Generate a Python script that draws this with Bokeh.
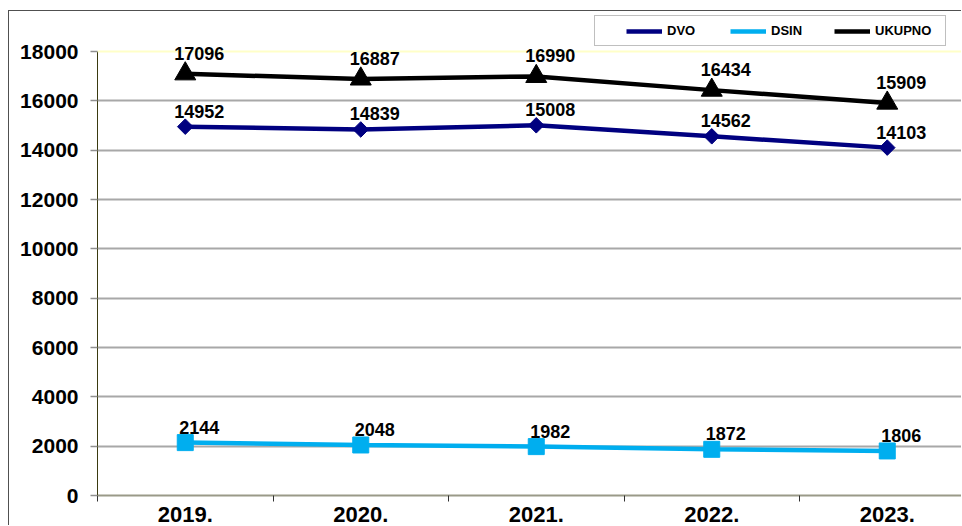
from math import pi
from bokeh.plotting import figure
from bokeh.models import (ColumnDataSource, Range1d, FixedTicker, LabelSet, Legend,
                          LegendItem, Span)
from bokeh.core.properties import value
from bokeh.embed import file_html
from bokeh.resources import INLINE

years = ["2019.", "2020.", "2021.", "2022.", "2023."]
dvo = [14952, 14839, 15008, 14562, 14103]
dsin = [2144, 2048, 1982, 1872, 1806]
ukupno = [17096, 16887, 16990, 16434, 15909]
y_ticks = [0, 2000, 4000, 6000, 8000, 10000, 12000, 14000, 16000, 18000]

FONT = "Liberation Sans"
xs = [i + 0.5 for i in range(len(years))]
boundaries = [float(i) for i in range(len(years) + 1)]

p = figure(width=953, height=515, output_backend="svg", toolbar_location=None,
           x_range=Range1d(0, 865 / 175.5), y_range=Range1d(0, 18000 * 484 / 444),
           min_border_left=88, min_border_right=0, min_border_top=0, min_border_bottom=31,
           background_fill_color="white", border_fill_color="white")
p.margin = (10, 0, 0, 8)
p.styles = {"border-left": "1px solid #505050", "border-top": "1px solid #505050"}
p.outline_line_color = None

# y axis
p.yaxis.ticker = FixedTicker(ticks=y_ticks)
p.yaxis.bounds = (0, 18000)
p.yaxis.major_label_text_font = FONT
p.yaxis.major_label_text_font_style = "bold"
p.yaxis.major_label_text_font_size = "21px"
p.yaxis.major_label_text_color = "black"
p.yaxis.major_tick_out = 7
p.yaxis.major_tick_in = 0
p.yaxis.major_tick_line_color = "#909090"
p.yaxis.major_tick_line_width = 1.5
p.yaxis.minor_tick_line_color = None
p.yaxis.axis_line_color = "#3a3a10"
p.yaxis.axis_line_width = 1
p.yaxis.major_label_standoff = 12

# x axis
p.xaxis.ticker = FixedTicker(ticks=xs, minor_ticks=boundaries)
p.xaxis.major_label_overrides = {x: t for x, t in zip(xs, years)}
p.xaxis.major_label_text_font = FONT
p.xaxis.major_label_text_font_style = "bold"
p.xaxis.major_label_text_font_size = "22px"
p.xaxis.major_label_text_color = "black"
p.xaxis.major_label_standoff = 5
p.xaxis.major_tick_line_color = None
p.xaxis.major_tick_out = 0
p.xaxis.major_tick_in = 0
p.xaxis.minor_tick_out = 6
p.xaxis.minor_tick_in = 0
p.xaxis.minor_tick_line_color = "#303030"
p.xaxis.axis_line_color = "#9a9a88"
p.xaxis.axis_line_width = 2

p.xgrid.grid_line_color = None
p.ygrid.ticker = FixedTicker(ticks=y_ticks[1:-1])
p.ygrid.grid_line_color = "#a8a8a8"
p.ygrid.grid_line_width = 2
p.add_layout(Span(location=y_ticks[-1], dimension="width",
                  line_color="#ffffc8", line_width=2))

src = ColumnDataSource(dict(x=xs, dvo=dvo, dsin=dsin, uk=ukupno,
                            dvo_t=[str(v) for v in dvo],
                            dsin_t=[str(v) for v in dsin],
                            uk_t=[str(v) for v in ukupno]))

DVO_C = "#000080"
DSIN_C = "#00AEEF"
UK_C = "#000000"

l_dvo = p.line("x", "dvo", source=src, line_color=DVO_C, line_width=4.5)
l_dsin = p.line("x", "dsin", source=src, line_color=DSIN_C, line_width=4.5)
l_uk = p.line("x", "uk", source=src, line_color=UK_C, line_width=4.5)

p.scatter("x", "dvo", source=src, marker="square", angle=pi / 4, size=11,
          fill_color=DVO_C, line_color=DVO_C)
p.scatter("x", "dsin", source=src, marker="square", size=16,
          fill_color=DSIN_C, line_color=DSIN_C)
p.scatter("x", "uk", source=src, marker="triangle", size=21,
          fill_color=UK_C, line_color=UK_C)

for col, txt, off in (("dvo", "dvo_t", 9), ("dsin", "dsin_t", 9), ("uk", "uk_t", 14)):
    p.add_layout(LabelSet(x="x", y=col, text=txt, source=src, x_offset=14, y_offset=off,
                          text_align="center", text_baseline="bottom",
                          text_font=value(FONT), text_font_style="bold",
                          text_font_size="18px", text_color="black"))

legend = Legend(items=[LegendItem(label="DVO", renderers=[l_dvo]),
                       LegendItem(label="DSIN", renderers=[l_dsin]),
                       LegendItem(label="UKUPNO", renderers=[l_uk])],
                orientation="horizontal", location=(497, 449),
                title=" ", title_location="left", title_standoff=15,
                title_text_font_size="8px",
                padding=7, spacing=0, margin=0, glyph_width=36, glyph_height=14,
                label_width=63, label_standoff=5,
                label_text_font=FONT, label_text_font_style="bold",
                label_text_font_size="13px", label_text_color="black",
                border_line_color="#808080", border_line_width=1,
                background_fill_color="white", background_fill_alpha=1)
p.add_layout(legend, "center")

open("out.html", "w").write(file_html(p, INLINE))
